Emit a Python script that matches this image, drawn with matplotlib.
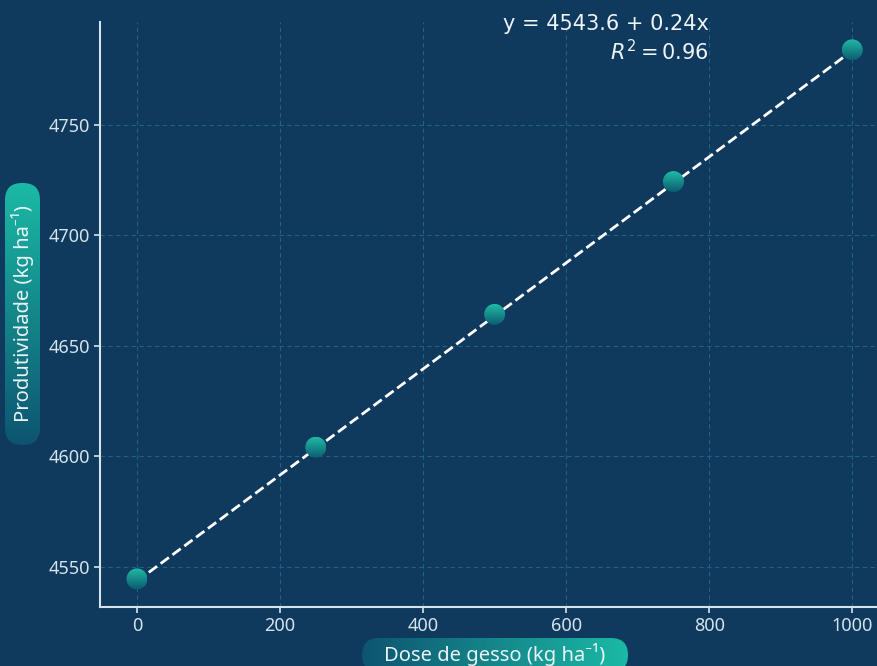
import numpy as np
import matplotlib
matplotlib.use("Agg")
import matplotlib.pyplot as plt
from matplotlib.patches import FancyBboxPatch, Circle
from matplotlib.colors import LinearSegmentedColormap

# data
dose = [0, 250, 500, 750, 1000]
produtividade = [4544.6, 4604.2, 4664.3, 4724.4, 4784.0]
intercept = 4543.6
slope = 0.24
r2 = 0.96
xticks = [0, 200, 400, 600, 800, 1000]
yticks = [4550, 4600, 4650, 4700, 4750]

bg = '#0f395d'
light = '#d5e4ec'
teal = '#1bbaa5'
dark = '#0d5470'

plt.rcParams['font.family'] = ['Noto Sans', 'DejaVu Sans']

fig = plt.figure(figsize=(8.78, 6.66), dpi=100, facecolor=bg)
ax = fig.add_axes([100/878, 59/666, 778/878, 585/666], facecolor=bg)

ax.set_xlim(-51.7, 1036)
ax.set_ylim(4531.9, 4796.6)

for s in ['top', 'right']:
    ax.spines[s].set_visible(False)
for s in ['left', 'bottom']:
    ax.spines[s].set_color(light)
    ax.spines[s].set_linewidth(1.5)

ax.set_xticks(xticks)
ax.set_yticks(yticks)
ax.tick_params(colors=light, labelsize=13, length=4, width=1.2, pad=3)
ax.grid(True, ls=(0, (4, 3)), color='#1e6285', lw=0.8)
ax.set_axisbelow(True)

# fit line
xf = np.array([dose[0], dose[-1]])
ax.plot(xf, intercept + slope * xf, ls='--', color='white', lw=2, zorder=3)

ax.text(800, 4800, f'y = {intercept} + {slope}x\n$R^2 = {r2}$', ha='right',
        va='top', ma='right', color='#eef4f7', fontsize=15, linespacing=1.2,
        family='DejaVu Sans', clip_on=False, zorder=6)

# overlay in pixel units for gradient fills
ov = fig.add_axes([0, 0, 1, 1])
ov.set_axis_off()
ov.patch.set_visible(False)
ov.set_xlim(0, 878)
ov.set_ylim(0, 666)

g = np.linspace(0, 1, 256)


def gradfill(patch, extent, c_lo, c_hi, vertical):
    ov.add_patch(patch)
    cmap = LinearSegmentedColormap.from_list('g', [c_lo, c_hi])
    grad = g[:, None] if vertical else g[None, :]
    im = ov.imshow(grad, cmap=cmap, extent=extent, origin='lower',
                   aspect='auto', interpolation='bilinear')
    im.set_clip_path(patch)


# points: shaded discs placed through the data transform
r = 10.5
pix = ax.transData.transform(np.column_stack([dose, produtividade]))
for px, py in pix:
    c = Circle((px, py), r, fc='none', ec='none')
    gradfill(c, [px - r, px + r, py - r, py + r], '#0c5c70', '#1fbba6', True)


def pill(x0, y0, w, h, vertical, txt, rot):
    box = FancyBboxPatch((x0, y0), w, h, boxstyle='round,pad=0,rounding_size=17',
                         fc='none', ec='none')
    gradfill(box, [x0, x0 + w, y0, y0 + h], dark, teal, vertical)
    ov.text(x0 + w / 2, y0 + h / 2, txt, rotation=rot, ha='center', va='center',
            color='#eaf3f6', fontsize=14.5)


pill(362, -6, 266, 34, False, 'Dose de gesso (kg ha⁻¹)', 0)
pill(5, 221, 35, 262, True, 'Produtividade (kg ha⁻¹)', 90)
ov.set_xlim(0, 878)
ov.set_ylim(0, 666)

fig.savefig('out.png', dpi=100, facecolor=bg)
